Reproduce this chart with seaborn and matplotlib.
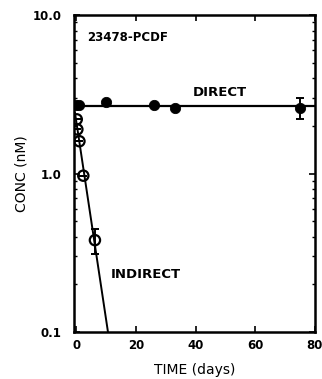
import numpy as np
import pandas as pd
import matplotlib
matplotlib.use("Agg")
import matplotlib.pyplot as plt
import seaborn as sns
from matplotlib.ticker import FixedLocator, NullFormatter, LogLocator

# Measured concentrations of 23478-PCDF
direct_days = [0.0, 1.0, 10.0, 26.0, 33.0, 75.0]
direct_conc = [2.70, 2.72, 2.83, 2.71, 2.60, 2.60]
direct_err = [0, 0, 0, 0, 0, 0.38]
direct_level = 2.68

indirect_days = [0.1, 0.3, 1.0, 2.3, 6.2]
indirect_conc = [2.20, 1.90, 1.60, 0.97, 0.38]
indirect_err = [0, 0, 0, 0, 0.07]
# first-order loss fit for the indirect series
indirect_c0 = 2.1
indirect_decade_days = 8.0

x_ticks = [0, 20, 40, 60, 80]
y_ticks = [0.1, 1.0, 10.0]
y_tick_labels = ["0.1", "1.0", "10.0"]

sns.set_style("ticks")
plt.rcParams["font.family"] = ["DejaVu Sans"]
plt.rcParams["text.color"] = "black"
plt.rcParams["axes.labelcolor"] = "black"
plt.rcParams["xtick.color"] = "black"
plt.rcParams["ytick.color"] = "black"
plt.rcParams["axes.edgecolor"] = "black"

fig = plt.figure(figsize=(3.22, 3.79), dpi=100)
ax = fig.add_axes([0.23, 0.124, 0.748, 0.836])

direct = pd.DataFrame({"day": direct_days, "conc": direct_conc})
indirect = pd.DataFrame({"day": indirect_days, "conc": indirect_conc})

# fitted lines
fit_direct = pd.DataFrame({"day": [-1.0, 80.0], "conc": [direct_level, direct_level]})
t_fit = np.array([-0.5, 12.0])
fit_indirect = pd.DataFrame({"day": t_fit,
                             "conc": indirect_c0 * 10 ** (-t_fit / indirect_decade_days)})
sns.lineplot(data=fit_direct, x="day", y="conc", ax=ax, color="black", lw=1.6)
sns.lineplot(data=fit_indirect, x="day", y="conc", ax=ax, color="black", lw=1.4)

ax.errorbar(direct_days, direct_conc, yerr=direct_err, fmt="none", ecolor="black",
            elinewidth=1.4, capsize=3, capthick=1.4, zorder=3)
ax.errorbar(indirect_days, indirect_conc, yerr=indirect_err, fmt="none", ecolor="black",
            elinewidth=1.4, capsize=3, capthick=1.4, zorder=3)

sns.scatterplot(data=indirect, x="day", y="conc", ax=ax, s=55, marker="o",
                facecolor="none", edgecolor="black", linewidth=1.6, zorder=4)
sns.scatterplot(data=direct, x="day", y="conc", ax=ax, s=55, marker="o",
                color="black", edgecolor="black", zorder=5)

ax.set_yscale("log")
ax.set_xlim(-0.8, 80)
ax.set_ylim(0.1, 10.0)
ax.xaxis.set_major_locator(FixedLocator(x_ticks))
ax.yaxis.set_major_locator(FixedLocator(y_ticks))
ax.yaxis.set_minor_locator(LogLocator(base=10, subs=np.arange(2, 10)))
ax.yaxis.set_minor_formatter(NullFormatter())
ax.set_yticklabels(y_tick_labels)

ax.tick_params(axis="both", which="major", direction="in", length=4, width=1.2,
               labelsize=8.5, top=True, right=True, colors="black")
ax.tick_params(axis="y", which="major", pad=9)
ax.tick_params(axis="x", which="major", pad=5)
ax.tick_params(axis="y", which="minor", direction="in", length=2, width=1.0,
               right=True, colors="black")
for lab in ax.get_xticklabels() + ax.get_yticklabels():
    lab.set_fontweight("bold")

for sp in ax.spines.values():
    sp.set_linewidth(1.8)
    sp.set_color("black")
    sp.set_visible(True)

ax.set_xlabel("TIME (days)", fontsize=10, labelpad=8)
ax.set_ylabel("CONC (nM)", fontsize=10, labelpad=3)

ax.text(3.5, 7.2, "23478-PCDF", fontsize=8.5, fontweight="bold", ha="left", va="center")
ax.text(39, 3.25, "DIRECT", fontsize=9.5, fontweight="bold", ha="left", va="center")
ax.text(11.5, 0.23, "INDIRECT", fontsize=9.5, fontweight="bold", ha="left", va="center")

fig.savefig("out.png", dpi=100)
